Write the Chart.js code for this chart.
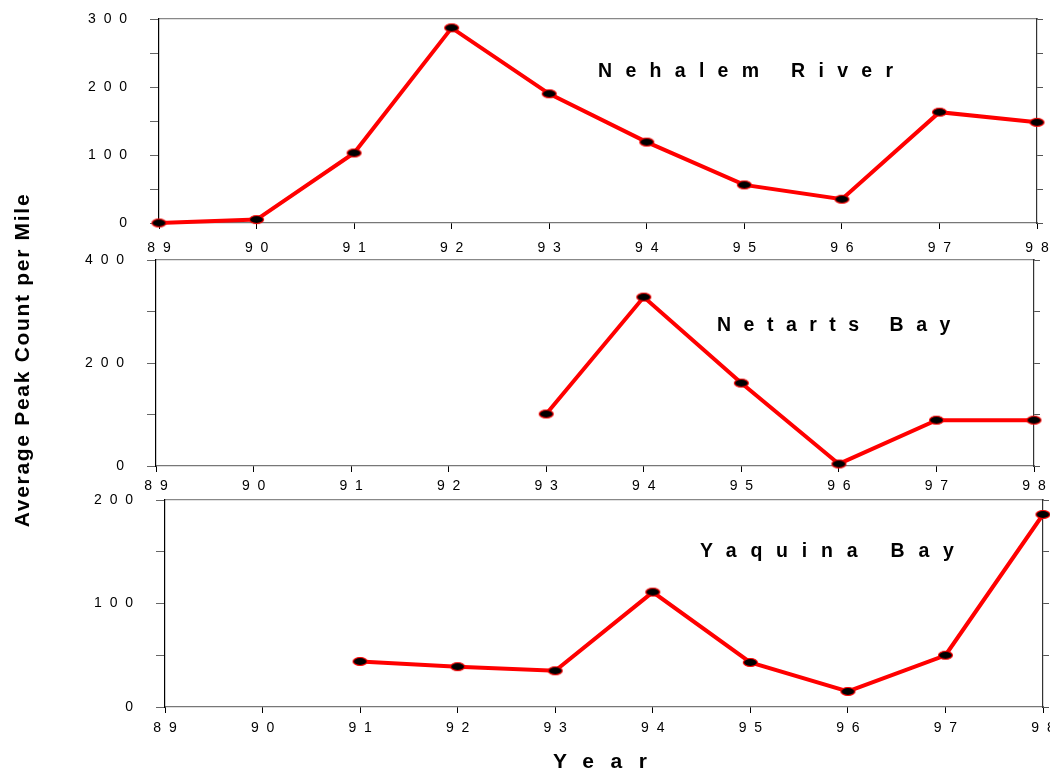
<!DOCTYPE html>
<html>
<head>
<meta charset="utf-8">
<script src="https://cdn.jsdelivr.net/npm/chart.js@4.4.1/dist/chart.umd.min.js"></script>
<style>
  body { margin:0; background:#fff; width:1050px; height:775px; position:relative; overflow:hidden; font-family: Arial, "Liberation Sans", sans-serif; }
  canvas { position:absolute; left:0; }
  .ttl { position:absolute; font-weight:bold; font-size:19.5px; line-height:20px; white-space:nowrap; color:#000; }
</style>
</head>
<body>
<canvas id="c1" width="1080" height="290" style="top:-21px"></canvas>
<canvas id="c2" width="1080" height="290" style="top:220px"></canvas>
<canvas id="c3" width="1080" height="290" style="top:460px"></canvas>

<div class="ttl" style="left:598px; top:60px; letter-spacing:13.3px">Nehalem River</div>
<div class="ttl" style="left:717px; top:314px; letter-spacing:12.5px">Netarts Bay</div>
<div class="ttl" style="left:700px; top:540px; letter-spacing:13.8px">Yaquina Bay</div>
<div class="ttl" style="left:553px; top:750px; font-size:21px; line-height:21px; letter-spacing:16.5px">Year</div>
<div class="ttl" style="left:-178px; top:350px; width:400px; text-align:center; font-size:21px; letter-spacing:1.7px; transform:rotate(-90deg)">Average Peak Count per Mile</div>

<script>
// years on the x axis
var years = [89, 90, 91, 92, 93, 94, 95, 96, 97, 98];

// average peak counts per mile (null = no survey)
var nehalem = [0, 5, 103, 287, 190, 119, 56, 35, 163, 148];
var netarts = [null, null, null, null, 101, 328, 161, 4, 89, 89];
var yaquina = [null, null, 44, 39, 35, 111, 43, 15, 50, 186];

function spaced(v){
    return String(v).split('').join('  ');
}

// black ellipse with red rim, used as point style
function ellipseMarker(){
    var c = document.createElement('canvas');
    c.width = 17; c.height = 11;
    var g = c.getContext('2d');
    g.beginPath();
    g.ellipse(8.5, 5.5, 7, 4, 0, 0, Math.PI*2);
    g.fillStyle = '#000';
    g.fill();
    g.lineWidth = 1.2;
    g.strokeStyle = '#ff0000';
    g.stroke();
    return c;
}
var marker = ellipseMarker();

function toPoints(vals){
    var pts = [];
    for(var i = 0; i < years.length; i++){
        if(vals[i] !== null) pts.push({x: years[i], y: vals[i]});
    }
    return pts;
}

function makePanel(id, vals, ymax, step, labelEvery, box){
    var font = {family: 'Arial, "Liberation Sans", sans-serif', size: 14};
    var chart = new Chart(document.getElementById(id), {
        type: 'line',
        data: {datasets: [{
            data: toPoints(vals),
            borderColor: '#ff0000',
            borderWidth: 4,
            tension: 0,
            pointStyle: marker,
            pointRadius: 6,
            clip: false
        }]},
        options: {
            responsive: false,
            animation: false,
            layout: {padding: {left: 0, top: 40, right: 37, bottom: 10}},
            plugins: {legend: {display: false}, tooltip: {enabled: false}},
            scales: {
                x: {
                    type: 'linear', position: 'bottom', min: 89, max: 98,
                    afterFit: function(s){ s.height = 30; },
                    ticks: {stepSize: 1, color: '#000', font: font, padding: box.xpad, callback: function(v){ return spaced(v); }},
                    grid: {drawOnChartArea: false, tickLength: 6, color: '#000'},
                    border: {color: '#777', width: 1.2}
                },
                xTop: {
                    type: 'linear', position: 'top', min: 89, max: 98,
                    afterFit: function(s){ s.height = 0; },
                    ticks: {display: false},
                    grid: {display: false},
                    border: {color: '#888', width: 1.2}
                },
                y: {
                    type: 'linear', position: 'left', min: 0, max: ymax,
                    afterFit: function(s){ s.width = box.left; },
                    ticks: {stepSize: step, color: '#000', font: font, padding: box.ypad,
                        callback: function(v){ return v % labelEvery === 0 ? spaced(v) : ''; }},
                    grid: {drawOnChartArea: false, tickLength: 9, color: '#666'},
                    border: {color: '#000', width: 1.2}
                },
                yRight: {
                    type: 'linear', position: 'right', min: 0, max: ymax,
                    afterFit: function(s){ s.width = 6; },
                    ticks: {display: false, stepSize: step},
                    grid: {drawOnChartArea: false, tickLength: 6, color: '#555'},
                    border: {color: '#333', width: 1.2}
                }
            }
        }
    });
    // nudge the layout padding until the plot area sits where the reference has it
    var pad = chart.options.layout.padding;
    for(var k = 0; k < 4; k++){
        var a = chart.chartArea;
        pad.left += box.left - a.left;
        pad.right += a.right - box.right;
        pad.top += box.top - a.top;
        pad.bottom += a.bottom - box.bottom;
        chart.update('none');
    }
    return chart;
}

// plot-area edges in canvas pixels (canvas offsets: -21, 220, 460)
makePanel('c1', nehalem, 300, 50, 100, {left: 159, right: 1037, top: 40, bottom: 244, xpad: 11, ypad: 23});
makePanel('c2', netarts, 400, 100, 200, {left: 156, right: 1034, top: 40, bottom: 246, xpad: 6, ypad: 23});
makePanel('c3', yaquina, 200, 50, 100, {left: 165, right: 1043, top: 40, bottom: 247, xpad: 7, ypad: 23});
</script>
</body>
</html>
